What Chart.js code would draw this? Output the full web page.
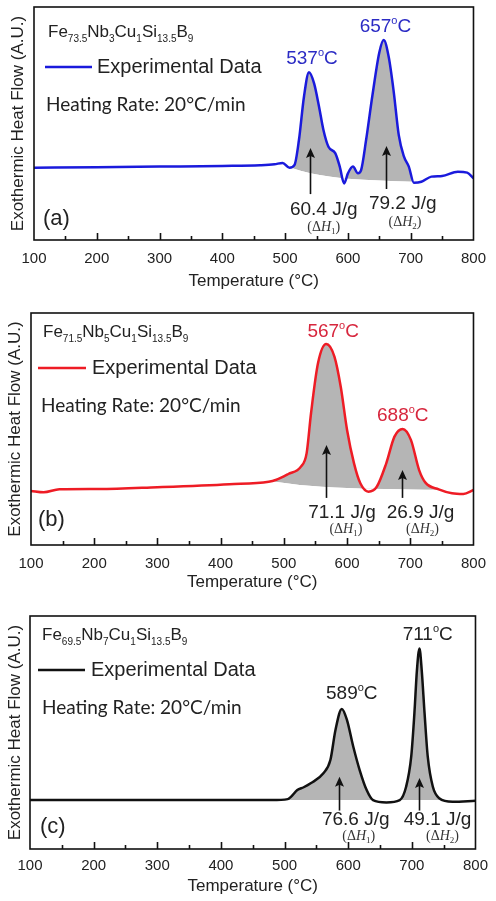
<!DOCTYPE html>
<html>
<head>
<meta charset="utf-8">
<script src="https://cdn.jsdelivr.net/npm/chart.js@4.4.1/dist/chart.umd.min.js"></script>
<style>
  html, body { margin: 0; padding: 0; background: #fff; }
  body { width: 496px; height: 901px; position: relative; overflow: hidden; }
  canvas { position: absolute; left: 0; }
</style>
</head>
<body>
<canvas id="dsc-a" width="496" height="300" style="top:0px"></canvas>
<canvas id="dsc-b" width="496" height="300" style="top:300px"></canvas>
<canvas id="dsc-c" width="496" height="301" style="top:600px"></canvas>
<script>
// 1. 데이터
const xMin = 100;
const xMax = 800;
const xStep = 100;
const minorStep = 50;

// (a) Fe73.5Nb3Cu1Si13.5B9
const formulaA = ['Fe', '73.5', 'Nb', '3', 'Cu', '1', 'Si', '13.5', 'B', '9'];
const tempA = [100, 200, 300, 400, 460, 483, 496, 507, 515, 522, 530, 538, 546, 554, 561, 569, 580, 587, 594, 600, 608, 616, 621, 629, 639, 650, 657, 665, 673, 681, 689, 697, 705, 717, 733, 750, 775, 790, 800];
const flowA = [31.0, 31.2, 31.5, 31.8, 32.1, 32.5, 33.1, 31.0, 32.2, 42.9, 61.5, 72.0, 67.3, 57.2, 47.2, 40.0, 37.2, 31.5, 24.3, 28.6, 31.5, 28.6, 30.0, 43.0, 62.0, 80.5, 85.8, 78.5, 63.5, 45.0, 36.0, 31.5, 24.6, 25.0, 27.2, 27.5, 29.3, 28.9, 26.5];
const baseTempA = [509, 540, 570, 600, 650, 705];
const baseFlowA = [31.0, 28.6, 27.2, 26.3, 25.5, 25.0];
const peaksA = [537, 657];
const enthalpyA = ['60.4', '79.2'];

// (b) Fe71.5Nb5Cu1Si13.5B9
const formulaB = ['Fe', '71.5', 'Nb', '5', 'Cu', '1', 'Si', '13.5', 'B', '9'];
const tempB = [100, 120, 145, 207, 300, 414, 476, 487, 507, 527, 536, 543, 554, 567, 580, 590, 600, 611, 621, 634, 647, 662, 675, 688, 701, 714, 724, 745, 766, 784, 800];
const flowB = [23.3, 22.7, 24.0, 24.1, 24.9, 26.2, 27.3, 28.0, 30.6, 33.8, 39.5, 56.8, 78.3, 86.6, 81.2, 68.2, 49.6, 35.2, 26.6, 23.0, 25.1, 35.2, 46.7, 50.0, 45.3, 32.3, 26.9, 24.0, 22.3, 22.0, 23.7];
const baseTempB = [480, 540, 620, 700, 750];
const baseFlowB = [27.5, 25.5, 24.3, 23.9, 23.8];
const peaksB = [567, 688];
const enthalpyB = ['71.1', '26.9'];

// (c) Fe69.5Nb7Cu1Si13.5B9
const formulaC = ['Fe', '69.5', 'Nb', '7', 'Cu', '1', 'Si', '13.5', 'B', '9'];
const tempC = [100, 300, 480, 505, 510, 520, 530, 541, 561, 572, 580, 590, 598, 608, 618, 629, 639, 660, 681, 691, 699, 704, 708, 712, 715.5, 720, 725, 733, 743, 764, 800];
const flowC = [21.0, 21.0, 21.0, 21.4, 22.4, 25.3, 26.5, 28.2, 32.5, 38.2, 51.1, 60.1, 55.4, 43.9, 33.9, 25.3, 21.0, 20.0, 21.0, 26.7, 39.6, 58.2, 76.8, 86.1, 76.8, 58.2, 39.6, 26.7, 21.8, 20.3, 20.7];
const baseTempC = [505, 745];
const baseFlowC = [21.0, 21.0];
const peaksC = [589, 711];
const enthalpyC = ['76.6', '49.1'];

const FONT = "'Liberation Sans', Arial, sans-serif";
const SERIF = "'Liberation Serif', 'DejaVu Serif', serif";
const FILL_GRAY = '#b5b5b5';

// 2. 글자 조각들을 이어서 그리기 (위첨자/아래첨자)
function drawRuns(ctx, runs, x, baseY, align, color) {
    ctx.save();
    ctx.fillStyle = color;
    ctx.textBaseline = 'alphabetic';
    ctx.textAlign = 'left';
    let total = 0;
    runs.forEach(r => { ctx.font = r.font; r.w = ctx.measureText(r.text).width; total += r.w; });
    let cx = align === 'center' ? x - total / 2 : x;
    runs.forEach(r => {
        ctx.font = r.font;
        ctx.fillText(r.text, cx, baseY + (r.dy || 0));
        cx += r.w;
    });
    ctx.restore();
}

function degreeRuns(value) {
    return [
        { text: String(value), font: `19px ${FONT}` },
        { text: 'o', font: `11px ${FONT}`, dy: -8 },
        { text: 'C', font: `19px ${FONT}` }
    ];
}

function formulaRuns(parts) {
    return parts.map((p, i) => i % 2 === 0
        ? { text: p, font: `17px ${FONT}` }
        : { text: p, font: `10px ${FONT}`, dy: 5 });
}

function deltaRuns(n) {
    return [
        { text: '(\u0394', font: `14px ${SERIF}` },
        { text: 'H', font: `italic 14px ${SERIF}` },
        { text: String(n), font: `9px ${SERIF}`, dy: 3 },
        { text: ')', font: `14px ${SERIF}` }
    ];
}

function drawArrow(ctx, px, tipY, tailY) {
    ctx.save();
    ctx.strokeStyle = '#111';
    ctx.fillStyle = '#111';
    ctx.lineWidth = 1.6;
    ctx.beginPath();
    ctx.moveTo(px, tailY);
    ctx.lineTo(px, tipY + 6);
    ctx.stroke();
    ctx.beginPath();
    ctx.moveTo(px, tipY);
    ctx.lineTo(px - 4.5, tipY + 10);
    ctx.lineTo(px, tipY + 8);
    ctx.lineTo(px + 4.5, tipY + 10);
    ctx.closePath();
    ctx.fill();
    ctx.restore();
}

// 3. 테두리 + 안쪽 눈금
const framePlugin = {
    id: 'frame',
    afterDraw(chart) {
        const { ctx, chartArea: a, scales: { x } } = chart;
        ctx.save();
        ctx.strokeStyle = '#111';
        ctx.lineWidth = 1.6;
        ctx.strokeRect(a.left, a.top, a.right - a.left, a.bottom - a.top);
        for (let t = xMin + minorStep; t < xMax; t += minorStep) {
            const px = Math.round(x.getPixelForValue(t)) + 0.5;
            const len = t % xStep === 0 ? 7 : 4;
            ctx.beginPath();
            ctx.moveTo(px, a.bottom);
            ctx.lineTo(px, a.bottom - len);
            ctx.stroke();
        }
        ctx.restore();
    }
};

// 4. 주석 (봉우리 온도, 화살표, 엔탈피, 범례)
const notePlugin = {
    id: 'notes',
    afterDatasetsDraw(chart, args, opts) {
        const { ctx, chartArea: a, scales: { x, y } } = chart;
        const L = opts.legend;

        // 조성식
        drawRuns(ctx, formulaRuns(opts.formula), a.left + L.formula[0], a.top + L.formula[1], 'left', '#222');

        // 범례 선 + 글자
        ctx.save();
        ctx.strokeStyle = opts.color;
        ctx.lineWidth = 2.5;
        ctx.beginPath();
        ctx.moveTo(a.left + L.line[0], a.top + L.line[2]);
        ctx.lineTo(a.left + L.line[1], a.top + L.line[2]);
        ctx.stroke();
        ctx.fillStyle = '#222';
        ctx.textBaseline = 'middle';
        ctx.font = `20px ${FONT}`;
        ctx.fillText('Experimental Data', a.left + L.text[0], a.top + L.text[1]);
        ctx.font = "19px Lato, 'Open Sans', sans-serif";
        ctx.fillText('Heating Rate: 20\u00B0C/min', a.left + L.rate[0], a.top + L.rate[1]);
        ctx.font = `22px ${FONT}`;
        ctx.fillText(opts.letter, a.left + L.letter[0], a.bottom + L.letter[1]);
        ctx.restore();

        opts.peaks.forEach((p, i) => {
            const n = opts.notes[i];
            // 봉우리 온도
            drawRuns(ctx, degreeRuns(p), x.getPixelForValue(n.peak[0]), y.getPixelForValue(n.peak[1]) + 7, 'center', opts.textColor);
            // 화살표
            drawArrow(ctx, Math.round(x.getPixelForValue(n.arrow[0])) + 0.5, y.getPixelForValue(n.arrow[1]), y.getPixelForValue(n.arrow[2]));
            // 엔탈피
            drawRuns(ctx, [{ text: opts.enthalpy[i] + ' J/g', font: `19px ${FONT}` }],
                x.getPixelForValue(n.heat[0]), y.getPixelForValue(n.heat[1]) + 7, 'center', '#222');
            drawRuns(ctx, deltaRuns(i + 1), x.getPixelForValue(n.delta[0]), y.getPixelForValue(n.delta[1]) + 5, 'center', '#333');
        });
    }
};

function makePanel(id, p) {
    const ctx = document.getElementById(id).getContext('2d');
    return new Chart(ctx, {
        type: 'line',
        data: {
            datasets: [{
                data: p.temps.map((t, i) => ({ x: t, y: p.flows[i] })),
                borderColor: p.color,
                borderWidth: 2.5,
                pointRadius: 0,
                cubicInterpolationMode: 'monotone',
                fill: { target: 1, above: FILL_GRAY, below: 'rgba(0,0,0,0)' },
                order: 0
            }, {
                data: p.baseTemps.map((t, i) => ({ x: t, y: p.baseFlows[i] })),
                borderWidth: 0,
                borderColor: 'rgba(0,0,0,0)',
                pointRadius: 0,
                cubicInterpolationMode: 'monotone',
                fill: false,
                order: 1
            }]
        },
        options: {
            responsive: false,
            animation: false,
            events: [],
            layout: { padding: { top: p.box.top, right: p.box.right, left: 0, bottom: 0 } },
            scales: {
                x: {
                    type: 'linear',
                    min: xMin,
                    max: xMax,
                    grid: { display: false, drawTicks: false },
                    border: { display: false },
                    ticks: { stepSize: xStep, color: '#222', padding: p.box.tickPad, font: { family: FONT, size: 15 } },
                    title: {
                        display: true,
                        text: 'Temperature (\u00B0C)',
                        color: '#222',
                        font: { family: FONT, size: 17 },
                        padding: { top: 0, bottom: p.box.titlePad }
                    },
                    afterFit: s => { s.height = p.box.xHeight; }
                },
                y: {
                    min: 0,
                    max: 100,
                    grid: { display: false },
                    border: { display: false },
                    ticks: { display: false },
                    title: {
                        display: true,
                        text: 'Exothermic Heat Flow (A.U.)',
                        color: '#222',
                        font: { family: FONT, size: 17 },
                        padding: { top: p.box.yTitlePad, bottom: 0 }
                    },
                    afterFit: s => { s.width = p.box.left; }
                }
            },
            plugins: {
                legend: { display: false },
                tooltip: { enabled: false },
                notes: {
                    formula: p.formula,
                    color: p.color,
                    textColor: p.textColor,
                    letter: p.letter,
                    legend: p.legend,
                    peaks: p.peaks,
                    enthalpy: p.enthalpy,
                    notes: p.notes
                }
            }
        },
        plugins: [notePlugin, framePlugin]
    });
}

// 5. 세 개의 패널
makePanel('dsc-a', {
    temps: tempA, flows: flowA, baseTemps: baseTempA, baseFlows: baseFlowA,
    formula: formulaA, peaks: peaksA, enthalpy: enthalpyA,
    color: '#1a1adc', textColor: '#2b2bc4', letter: '(a)',
    box: { top: 7, right: 13, left: 34, xHeight: 60, tickPad: 10, titlePad: 8, yTitlePad: 8 },
    legend: { formula: [14, 30], line: [11, 58, 60], text: [63, 60], rate: [12, 98], letter: [9, -21] },
    notes: [
        { peak: [542.8, 78.7], arrow: [539.6, 39.5, 19.7], heat: [561.5, 13.7], delta: [561.5, 6.0] },
        { peak: [659.7, 92.3], arrow: [661.3, 40.3, 21.9], heat: [687.3, 16.4], delta: [690.9, 8.2] }
    ]
});

makePanel('dsc-b', {
    temps: tempB, flows: flowB, baseTemps: baseTempB, baseFlows: baseFlowB,
    formula: formulaB, peaks: peaksB, enthalpy: enthalpyB,
    color: '#ee1c25', textColor: '#d7263d', letter: '(b)',
    box: { top: 13, right: 14, left: 31, xHeight: 55, tickPad: 10, titlePad: 7, yTitlePad: 5 },
    legend: { formula: [12, 24], line: [7, 55, 55], text: [61, 55], rate: [10, 93], letter: [7, -25] },
    notes: [
        { peak: [578, 92.7], arrow: [567.2, 43.1, 20.3], heat: [592, 14.8], delta: [598.2, 7.3] },
        { peak: [688.2, 56.5], arrow: [687.2, 32.3, 20.3], heat: [716.2, 14.8], delta: [719.3, 7.3] }
    ]
});

makePanel('dsc-c', {
    temps: tempC, flows: flowC, baseTemps: baseTempC, baseFlows: baseFlowC,
    formula: formulaC, peaks: peaksC, enthalpy: enthalpyC,
    color: '#111111', textColor: '#222222', letter: '(c)',
    box: { top: 16, right: 16, left: 30, xHeight: 52, tickPad: 8, titlePad: 4, yTitlePad: 5 },
    legend: { formula: [12, 24], line: [8, 55, 54], text: [61, 54], rate: [12, 92], letter: [10, -22] },
    notes: [
        { peak: [605.6, 67.5], arrow: [584.9, 31.0, 16.5], heat: [611.8, 13.3], delta: [616.5, 6.0] },
        { peak: [724.9, 92.8], arrow: [710.9, 30.5, 16.5], heat: [740.4, 13.3], delta: [748.2, 6.0] }
    ]
});
</script>
</body>
</html>
